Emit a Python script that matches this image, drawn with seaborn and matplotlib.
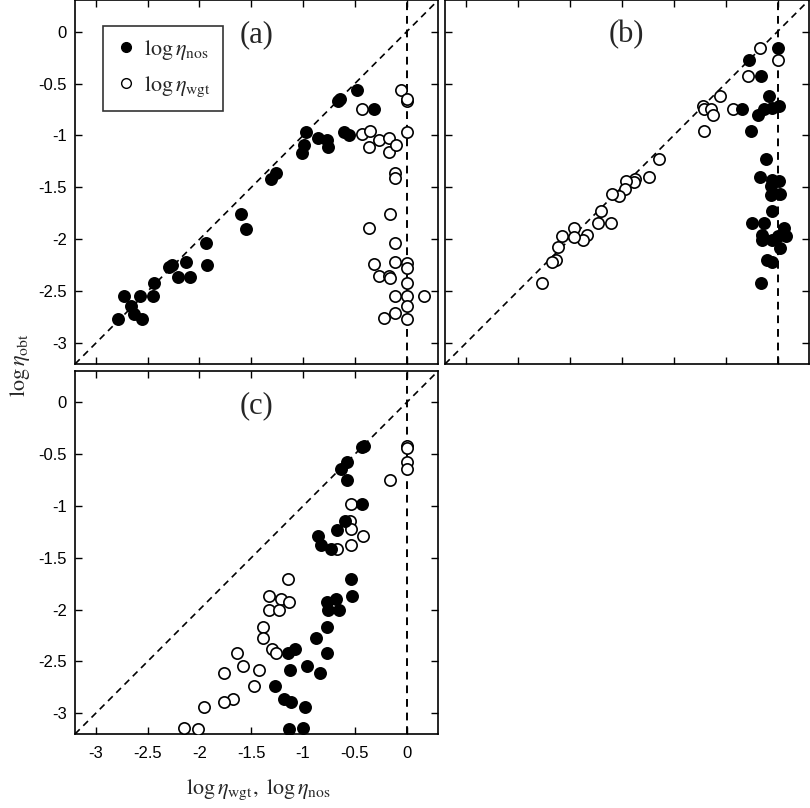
import matplotlib
matplotlib.use("Agg")
import matplotlib.pyplot as plt
from matplotlib.lines import Line2D
import numpy as np
import pandas as pd
import seaborn as sns

# panel (a)
a_nos_x = [-2.79, -2.73, -2.66, -2.63, -2.57, -2.55, -2.45, -2.44, -2.29, -2.26, -2.21,
           -2.13, -2.09, -1.94, -1.93, -1.60, -1.55, -1.31, -1.26, -1.01, -0.99, -0.97,
           -0.86, -0.77, -0.76, -0.66, -0.64, -0.61, -0.56, -0.48, -0.32]
a_nos_y = [-2.77, -2.55, -2.64, -2.72, -2.55, -2.77, -2.55, -2.42, -2.27, -2.25, -2.36,
           -2.22, -2.36, -2.04, -2.25, -1.76, -1.90, -1.42, -1.36, -1.17, -1.09, -0.97,
           -1.02, -1.04, -1.11, -0.67, -0.65, -0.97, -1.00, -0.56, -0.75]
a_wgt_x = [-0.43, -0.43, -0.35, -0.36, -0.27, -0.17, -0.17, -0.10, -0.06, 0.0, 0.0, 0.0,
           -0.11, -0.11, -0.16, -0.36, -0.11, -0.32, -0.11, 0.0, 0.0, -0.27, -0.17, -0.16,
           0.0, -0.11, 0.0, 0.17, 0.0, -0.22, -0.11, 0.0]
a_wgt_y = [-0.75, -0.99, -0.96, -1.11, -1.04, -1.02, -1.16, -1.09, -0.56, -0.67, -0.65, -0.97,
           -1.36, -1.41, -1.76, -1.89, -2.04, -2.24, -2.22, -2.23, -2.28, -2.35, -2.35, -2.37,
           -2.42, -2.55, -2.55, -2.55, -2.64, -2.76, -2.71, -2.77]

# panel (b)
b_nos_x = [0.0, -0.27, -0.16, -0.08, -0.34, -0.19, -0.13, -0.05, 0.01, -0.26, -0.11, -0.17,
           -0.05, 0.01, -0.06, -0.06, 0.02, -0.05, -0.25, -0.13, -0.15, -0.15, -0.05, 0.0,
           0.06, 0.08, 0.02, -0.10, -0.05, -0.16]
b_nos_y = [-0.16, -0.27, -0.43, -0.62, -0.75, -0.80, -0.75, -0.74, -0.72, -0.96, -1.23, -1.40,
           -1.43, -1.44, -1.49, -1.57, -1.56, -1.73, -1.84, -1.84, -1.96, -2.01, -2.01, -1.97,
           -1.89, -1.97, -2.08, -2.20, -2.22, -2.42]
b_wgt_x = [-0.17, 0.0, -0.28, -0.55, -0.72, -0.71, -0.64, -0.62, -0.43, -0.71, -1.14, -1.24,
           -1.37, -1.38, -1.46, -1.47, -1.53, -1.59, -1.70, -1.73, -1.60, -1.83, -1.87, -1.96,
           -1.96, -2.07, -2.11, -2.13, -2.17, -2.27]
b_wgt_y = [-0.16, -0.27, -0.43, -0.62, -0.72, -0.75, -0.75, -0.80, -0.75, -0.96, -1.23, -1.40,
           -1.42, -1.45, -1.44, -1.52, -1.58, -1.56, -1.73, -1.84, -1.84, -1.96, -2.01, -1.89,
           -1.98, -1.97, -2.07, -2.20, -2.22, -2.42]

# panel (c)
c_nos_x = [-0.43, -0.41, -0.43, -0.58, -0.63, -0.58, -0.60, -0.67, -0.86, -0.83, -0.73,
           -0.54, -0.53, -0.77, -0.68, -0.76, -0.65, -0.77, -0.88, -1.08, -1.15, -0.77,
           -1.13, -0.96, -0.84, -1.27, -1.18, -1.12, -0.98, -1.14, -1.00]
c_nos_y = [-0.43, -0.42, -0.98, -0.58, -0.64, -0.75, -1.15, -1.23, -1.29, -1.38, -1.42,
           -1.70, -1.87, -1.93, -1.90, -2.00, -2.00, -2.17, -2.27, -2.38, -2.42, -2.42,
           -2.58, -2.54, -2.61, -2.74, -2.86, -2.89, -2.94, -3.15, -3.14]
c_wgt_x = [0.0, 0.0, 0.0, 0.0, -0.16, -0.54, -0.55, -0.54, -0.42, -0.54, -0.67, -1.15,
           -1.33, -1.21, -1.14, -1.33, -1.23, -1.39, -1.39, -1.30, -1.26, -1.64, -1.58,
           -1.43, -1.76, -1.47, -1.68, -1.76, -1.96, -2.15, -2.01]
c_wgt_y = [-0.42, -0.44, -0.58, -0.64, -0.75, -0.98, -1.15, -1.22, -1.29, -1.38, -1.42,
           -1.70, -1.87, -1.90, -1.93, -2.00, -2.00, -2.17, -2.27, -2.38, -2.42, -2.42,
           -2.54, -2.58, -2.61, -2.74, -2.86, -2.89, -2.94, -3.14, -3.15]

tick_vals = [-3, -2.5, -2, -1.5, -1, -0.5, 0]
tick_labels = ["-3", "-2.5", "-2", "-1.5", "-1", "-0.5", "0"]
lims = (-3.2, 0.3)

sns.set_theme(style="ticks")
plt.rcParams["font.family"] = ["Liberation Sans", "DejaVu Sans"]
plt.rcParams["mathtext.fontset"] = "stix"
plt.rcParams["axes.unicode_minus"] = False


def draw_panel(ax, nos_x, nos_y, wgt_x, wgt_y, tag, xlab, ylab):
    ax.plot(lims, lims, color="black", linestyle=(0, (4, 3)), linewidth=1.2, zorder=1)
    ax.axvline(0, color="black", linestyle=(0, (4, 3)), linewidth=1.4, zorder=1)
    frame_wgt = pd.DataFrame({"x": wgt_x, "y": wgt_y})
    frame_nos = pd.DataFrame({"x": nos_x, "y": nos_y})
    sns.scatterplot(data=frame_wgt, x="x", y="y", ax=ax, s=66, facecolor="white",
                    edgecolor="black", linewidth=1.2, zorder=3)
    sns.scatterplot(data=frame_nos, x="x", y="y", ax=ax, s=66, color="black",
                    edgecolor="black", linewidth=1.2, zorder=3)
    ax.set_xlim(lims)
    ax.set_ylim(lims)
    ax.set_xlabel("")
    ax.set_ylabel("")
    ax.set_xticks(tick_vals)
    ax.set_yticks(tick_vals)
    ax.set_xticklabels(tick_labels if xlab else [])
    ax.set_yticklabels(tick_labels if ylab else [])
    ax.tick_params(axis="both", direction="in", top=True, right=True, length=5,
                   width=1.0, labelsize=12, colors="black")
    ax.tick_params(axis="x", pad=9)
    ax.tick_params(axis="y", pad=6)
    for sp in ax.spines.values():
        sp.set_linewidth(1.2)
        sp.set_color("black")
    ax.text(0.5, 0.905, tag, transform=ax.transAxes, ha="center", va="center",
            fontsize=22, family="Liberation Serif")


fig = plt.figure(figsize=(8.1, 8.08), dpi=100)
ax_a = fig.add_axes([0.0926, 0.5495, 0.448, 0.450])
ax_b = fig.add_axes([0.5494, 0.5495, 0.449, 0.450])
ax_c = fig.add_axes([0.0926, 0.0916, 0.448, 0.449])

draw_panel(ax_a, a_nos_x, a_nos_y, a_wgt_x, a_wgt_y, "(a)", False, True)
draw_panel(ax_b, b_nos_x, b_nos_y, b_wgt_x, b_wgt_y, "(b)", False, False)
draw_panel(ax_c, c_nos_x, c_nos_y, c_wgt_x, c_wgt_y, "(c)", True, True)

handles = [
    Line2D([], [], linestyle="", marker="o", markersize=7, markerfacecolor="black",
           markeredgecolor="black"),
    Line2D([], [], linestyle="", marker="o", markersize=7, markerfacecolor="white",
           markeredgecolor="black"),
]
leg = ax_a.legend(handles, [r"$\log\eta_{\rm nos}$", r"$\log\eta_{\rm wgt}$"],
                  loc="upper left", bbox_to_anchor=(0.077, 0.93), borderaxespad=0,
                  fontsize=16, frameon=True, fancybox=False, handletextpad=0.3,
                  handlelength=1.0, borderpad=0.55, labelspacing=0.55)
leg.get_frame().set_edgecolor("black")
leg.get_frame().set_linewidth(1.2)

fig.text(20 / 810, 1 - 365 / 808, r"$\log\eta_{\rm obt}$", rotation=90,
         ha="center", va="center", fontsize=16)
fig.text(258 / 810, 1 - 790 / 808, r"$\log\eta_{\rm wgt},\ \log\eta_{\rm nos}$",
         ha="center", va="center", fontsize=16)

fig.savefig("out.png", dpi=100)
